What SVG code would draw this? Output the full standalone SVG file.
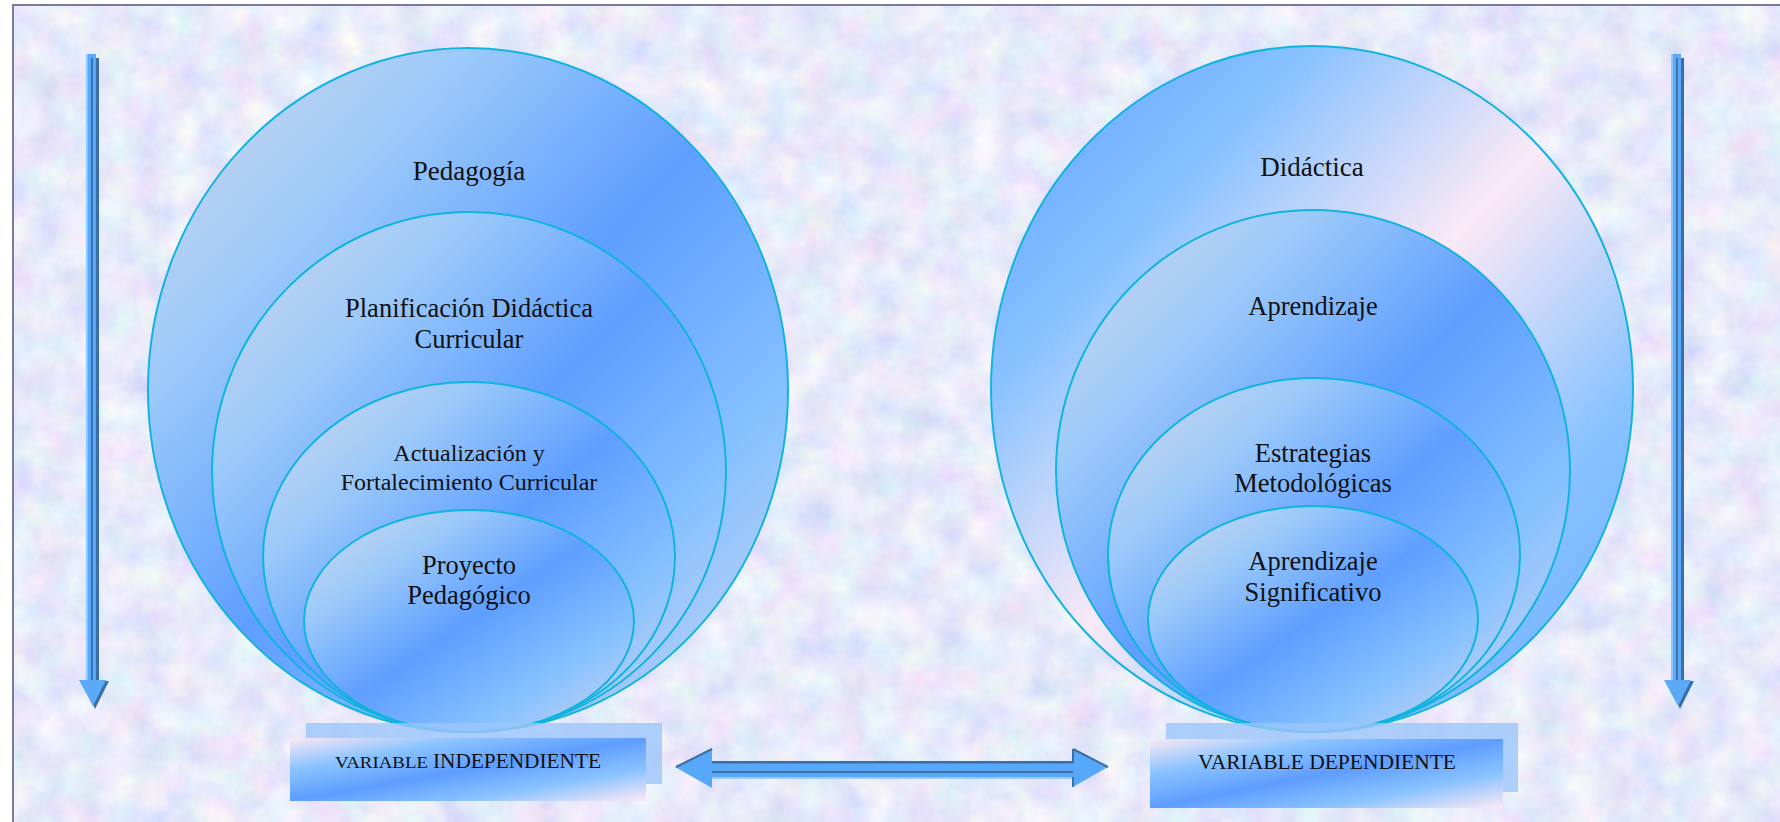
<svg xmlns="http://www.w3.org/2000/svg" width="1780" height="822" viewBox="0 0 1780 822">
<defs>
<filter id="tex" x="0" y="0" width="100%" height="100%">
<feTurbulence type="fractalNoise" baseFrequency="0.03" numOctaves="4" seed="7"/>
<feColorMatrix type="matrix" values="0.4 0.15 0 0 0.53  0.1 0.35 0 0 0.6  0 0 0.15 0 0.88  0 0 0 0 1"/>
</filter>
<linearGradient id="gBlue" x1="0" y1="0" x2="1" y2="1">
<stop offset="0" stop-color="#d6d8ea"/>
<stop offset="0.25" stop-color="#9ccaf9"/>
<stop offset="0.5" stop-color="#5e9eff"/>
<stop offset="0.75" stop-color="#86c1ff"/>
<stop offset="1" stop-color="#d0d6ec"/>
</linearGradient>
<linearGradient id="gPink" x1="0" y1="0" x2="1" y2="1">
<stop offset="0" stop-color="#5c9cff"/>
<stop offset="0.25" stop-color="#88c2ff"/>
<stop offset="0.5" stop-color="#fbe9f6"/>
<stop offset="0.75" stop-color="#8ac3ff"/>
<stop offset="1" stop-color="#6aaaff"/>
</linearGradient>
<linearGradient id="gBox" x1="0" y1="0" x2="1" y2="1">
<stop offset="0" stop-color="#fde8f4"/>
<stop offset="0.25" stop-color="#8cc4ff"/>
<stop offset="0.5" stop-color="#5e9dff"/>
<stop offset="0.75" stop-color="#8cc4ff"/>
<stop offset="1" stop-color="#fde8f4"/>
</linearGradient>
<g id="varrow">
<rect x="90" y="58" width="9" height="624" fill="#3b6ea5"/>
<polygon points="82,681 109,681 95,709" fill="#3b6ea5"/>
<rect x="86" y="54" width="10" height="627" fill="#5aaaf8"/>
<rect x="86" y="54" width="2" height="626" fill="#8ec6ff"/>
<rect x="91" y="58" width="1.8" height="622" fill="#3b6ea5"/>
<polygon points="79,680 106,680 93,706" fill="#5aaaf8"/>
</g>
</defs>
<style>
.ring{stroke:#10b4de;stroke-width:2}
.lbl{font-family:"Liberation Serif","Times New Roman",serif;fill:#111;text-anchor:middle}
.back{fill:#9cc6fa;opacity:0.8}
.front{fill:url(#gBox)}
</style>
<rect x="0" y="0" width="1780" height="822" fill="#ffffff"/>
<rect x="13" y="5" width="1767" height="817" filter="url(#tex)"/>
<rect x="13" y="5" width="1800" height="900" fill="none" stroke="#7a7a9a" stroke-width="2"/>

<g id="left-set">
<g id="pedagogia">
<ellipse class="ring" cx="468" cy="390" rx="320" ry="342" fill="url(#gBlue)"/>
<text class="lbl" x="469" y="180" font-size="27">Pedagogía</text>
</g>
<g id="planificacion">
<ellipse class="ring" cx="469" cy="472" rx="257" ry="260" fill="url(#gBlue)"/>
<text class="lbl" x="469" y="317" font-size="26.5">Planificación Didáctica</text>
<text class="lbl" x="469" y="348" font-size="26.5">Curricular</text>
</g>
<g id="actualizacion">
<ellipse class="ring" cx="469" cy="557" rx="206" ry="175" fill="url(#gBlue)"/>
<text class="lbl" x="469" y="461" font-size="24">Actualización y</text>
<text class="lbl" x="469" y="490" font-size="24">Fortalecimiento Curricular</text>
</g>
<g id="proyecto">
<ellipse class="ring" cx="469" cy="621" rx="165" ry="111" fill="url(#gBlue)"/>
<text class="lbl" x="469" y="574" font-size="26.5">Proyecto</text>
<text class="lbl" x="469" y="604" font-size="26.5">Pedagógico</text>
</g>
</g>

<g id="right-set">
<g id="didactica">
<ellipse class="ring" cx="1312" cy="389" rx="321" ry="343" fill="url(#gPink)"/>
<text class="lbl" x="1312" y="176" font-size="27">Didáctica</text>
</g>
<g id="aprendizaje">
<ellipse class="ring" cx="1313" cy="471" rx="257" ry="261" fill="url(#gBlue)"/>
<text class="lbl" x="1313" y="315" font-size="26.5">Aprendizaje</text>
</g>
<g id="estrategias">
<ellipse class="ring" cx="1314" cy="555" rx="206" ry="177" fill="url(#gBlue)"/>
<text class="lbl" x="1313" y="462" font-size="26.5">Estrategias</text>
<text class="lbl" x="1313" y="492" font-size="26.5">Metodológicas</text>
</g>
<g id="significativo">
<ellipse class="ring" cx="1313" cy="619" rx="165" ry="113" fill="url(#gBlue)"/>
<text class="lbl" x="1313" y="570" font-size="26.5">Aprendizaje</text>
<text class="lbl" x="1313" y="601" font-size="26.5">Significativo</text>
</g>
</g>

<g id="var-independiente">
<rect class="back" x="306" y="723" width="356" height="61"/>
<rect class="front" x="290" y="738" width="356" height="63"/>
<text x="335" y="768" font-family="Liberation Serif, Times New Roman, serif" fill="#111"><tspan font-size="17" textLength="93" lengthAdjust="spacingAndGlyphs">VARIABLE</tspan><tspan x="433" font-size="21" textLength="168" lengthAdjust="spacingAndGlyphs">INDEPENDIENTE</tspan></text>
</g>
<g id="var-dependiente">
<rect class="back" x="1166" y="723" width="352" height="69"/>
<rect class="front" x="1150" y="739" width="353" height="69"/>
<text x="1198" y="769" font-family="Liberation Serif, Times New Roman, serif" font-size="21" fill="#111" textLength="258" lengthAdjust="spacingAndGlyphs">VARIABLE DEPENDIENTE</text>
</g>

<g id="connectors">
<use href="#varrow"/>
<use href="#varrow" transform="translate(1585,0)"/>
<g id="double-arrow">
<polygon points="675,767 712,749 712,763 1073,763 1073,749 1108,767 1073,787 1073,777 712,777 712,788" fill="#58a8fa"/>
<rect x="712" y="761" width="361" height="2.5" fill="#3b6ea5"/>
<rect x="712" y="771" width="361" height="2" fill="#3b6ea5"/>
<rect x="712" y="777" width="361" height="2" fill="#9ccafc"/>
<line x1="676" y1="767" x2="712" y2="749" stroke="#3b6ea5" stroke-width="2"/>
<line x1="1073" y1="749" x2="1073" y2="763" stroke="#3b6ea5" stroke-width="2"/>
<line x1="1073" y1="749" x2="1108" y2="767" stroke="#3b6ea5" stroke-width="2"/>
<line x1="1073" y1="777" x2="1073" y2="787" stroke="#3b6ea5" stroke-width="2"/>
</g>
</g>
</svg>
